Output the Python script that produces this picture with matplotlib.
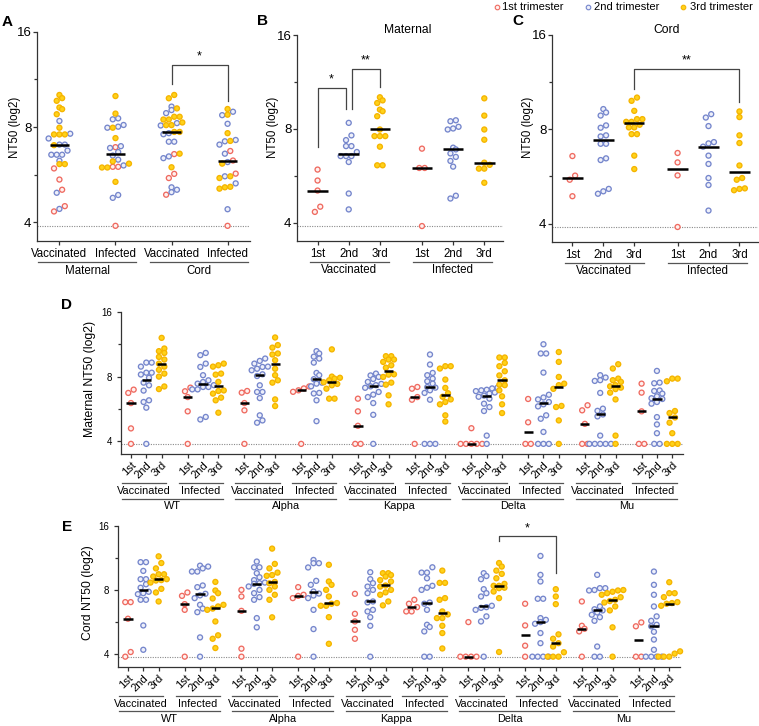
import numpy as np
import matplotlib
matplotlib.use('Agg')
import matplotlib.pyplot as plt
from matplotlib.lines import Line2D
from matplotlib.ticker import FixedLocator, NullFormatter

plt.rcParams['font.family'] = ['Liberation Sans', 'DejaVu Sans']

LOD = 3.9
trimesters = ['1st', '2nd', '3rd']
tri_labels = ['1st trimester', '2nd trimester', '3rd trimester']
groups = ['Vaccinated', 'Infected']
variants = ['WT', 'Alpha', 'Kappa', 'Delta', 'Mu']

# panel B: maternal NT50, per trimester
mat_vac = [[5.92, 5.46, 5.07, 4.50, 4.33],
           [8.36, 7.62, 7.36, 7.04, 7.04, 6.74, 6.54, 6.54, 6.54, 6.26, 4.96, 4.41],
           [10.1, 9.87, 9.68, 9.22, 9.11, 8.78, 7.96, 7.58, 7.58, 7.58, 7.01, 6.11, 6.11]]
mat_inf = [[6.91, 5.99, 5.99, 3.9],
           [8.52, 8.46, 8.12, 8.02, 7.96, 6.96, 6.87, 6.67, 6.50, 6.31, 6.05, 4.88, 4.78],
           [10.02, 8.82, 7.96, 7.38, 6.23, 6.13, 5.96, 5.96, 5.37]]
# panel C: cord NT50
cord_vac = [[6.57, 5.69, 5.52, 4.89],
            [9.28, 9.05, 8.85, 8.23, 8.09, 7.65, 7.59, 7.19, 7.19, 6.46, 6.38, 5.16, 5.07, 4.98],
            [10.1, 9.86, 9.16, 8.62, 8.62, 8.45, 8.45, 8.27, 8.11, 8.11, 7.72, 7.72, 6.59, 5.97]]
cord_inf = [[6.72, 6.27, 5.70, 3.9],
            [8.94, 8.72, 8.19, 7.28, 7.21, 7.04, 6.59, 6.20, 5.59, 5.31, 4.40],
            [9.12, 8.75, 7.65, 7.23, 6.13, 5.59, 5.52, 5.18, 5.16, 5.11]]

# panel D: maternal by variant -> [vac 1st, vac 2nd, vac 3rd, inf 1st, inf 2nd, inf 3rd]
mat_wt = [[6.96, 6.72, 6.03, 4.60, 3.9],
          [9.29, 9.29, 8.9, 8.34, 8.34, 8.18, 7.9, 7.5, 7.29, 6.89, 6.21, 6.10, 5.74, 3.9],
          [12.1, 10.8, 10.5, 10.3, 9.87, 9.6, 9.19, 8.9, 8.6, 8.26, 8.0, 7.2, 7.0],
          [7.11, 6.84, 6.43, 5.52, 3.9],
          [10.3, 10.06, 9.19, 8.87, 8.12, 7.69, 7.55, 7.42, 7.3, 7.16, 7.16, 6.98, 6.98, 5.2, 5.06],
          [9.19, 9.03, 8.9, 8.26, 8.17, 7.56, 6.9, 6.86, 6.67, 6.39, 6.21, 5.44]]
mat_alpha = [[6.86, 6.74, 6.03, 5.58, 3.9],
             [9.70, 9.46, 9.19, 8.9, 8.87, 8.7, 8.56, 8.2, 8.05, 7.29, 6.79, 6.79, 6.36, 5.29, 5.01, 4.89],
             [12.15, 11.2, 10.9, 10.24, 10.13, 9.53, 8.7, 8.12, 7.69, 7.5, 6.27, 5.84],
             [7.2, 7.05, 6.91, 6.8, 3.9],
             [10.5, 10.24, 9.9, 9.70, 9.29, 8.32, 8.12, 7.78, 7.5, 7.42, 7.21, 6.72, 6.68, 6.21, 4.97],
             [10.7, 8.0, 7.9, 7.83, 7.69, 7.53, 7.4, 7.29, 7.03, 6.32, 6.32]]
mat_kappa = [[6.32, 5.52, 4.73, 3.9, 3.9],
             [8.26, 8.1, 7.97, 7.8, 7.56, 7.4, 7.3, 7.21, 7.1, 6.79, 6.6, 6.43, 6.03, 5.32, 3.9],
             [9.95, 9.95, 9.6, 9.6, 9.36, 9.03, 8.8, 8.2, 8.17, 7.97, 7.5, 7.34, 6.55, 5.95],
             [7.16, 7.03, 6.43, 6.25, 3.9],
             [10.13, 9.10, 8.32, 8.12, 7.83, 7.61, 7.42, 7.15, 7.11, 6.91, 6.72, 6.25, 3.9, 3.9, 3.9],
             [8.94, 8.94, 8.72, 7.75, 7.09, 6.7, 6.45, 6.27, 6.1, 5.95, 5.29, 4.95]]
mat_delta = [[4.61, 3.9, 3.9, 3.9, 3.9, 3.9],
             [7.11, 7.05, 6.95, 6.91, 6.85, 6.75, 6.67, 6.53, 6.45, 6.32, 5.99, 5.78, 5.54, 4.26, 3.9],
             [9.81, 9.81, 9.26, 8.94, 8.47, 8.1, 7.69, 7.34, 7.3, 6.91, 6.48, 5.95, 5.42],
             [6.30, 4.91, 3.9, 3.9],
             [11.3, 10.24, 10.24, 8.35, 6.59, 6.4, 6.27, 6.1, 5.95, 5.82, 5.29, 5.10, 4.43, 3.9, 3.9, 3.9],
             [10.4, 9.36, 7.97, 7.42, 7.3, 7.02, 5.85, 5.78, 5.01, 3.9]]
mat_mu = [[5.89, 5.58, 4.83, 3.9, 3.9],
          [8.12, 7.92, 7.7, 7.64, 6.72, 5.68, 5.55, 5.34, 5.23, 4.26, 3.9, 3.9, 3.9, 3.9, 3.9],
          [9.13, 8.72, 7.83, 7.7, 7.56, 7.3, 7.21, 7.11, 7.0, 6.74, 6.27, 4.26, 3.9],
          [7.42, 6.74, 5.52, 3.9, 3.9],
          [8.50, 7.5, 7.45, 6.9, 6.86, 6.67, 6.48, 6.35, 6.30, 6.10, 5.99, 5.19, 4.8, 4.37, 3.9, 3.9],
          [7.83, 7.83, 7.61, 5.54, 5.42, 5.17, 4.89, 4.37, 3.9, 3.9, 3.9]]

# panel E: cord by variant
cord_wt = [[7.02, 7.02, 5.87, 4.1, 3.9],
           [10.8, 10.8, 9.83, 8.99, 8.99, 8.51, 8.2, 7.85, 7.73, 7.65, 7.20, 7.20, 5.46, 4.2],
           [11.5, 10.7, 10.1, 9.48, 9.48, 9.25, 8.99, 8.9, 8.86, 8.67, 8.1, 7.79, 7.07],
           [7.79, 7.51, 6.87, 6.46, 3.9],
           [10.4, 10.3, 10.1, 9.76, 9.76, 8.40, 8.25, 7.68, 7.55, 7.33, 6.82, 6.55, 6.30, 4.80, 3.9],
           [8.73, 7.96, 7.73, 7.3, 6.82, 6.7, 6.55, 6.46, 5.70, 4.91, 4.73, 4.28]]
cord_alpha = [[8.01, 7.46, 6.39, 4.25, 3.9],
              [10.87, 10.22, 10.22, 9.59, 9.18, 8.9, 8.67, 8.61, 8.55, 8.31, 8.01, 7.73, 7.41, 7.20, 5.91, 5.35],
              [12.5, 10.6, 10.1, 9.65, 9.4, 9.32, 8.73, 8.6, 8.31, 8.01, 7.6, 7.2, 5.96],
              [8.25, 7.6, 7.51, 7.33, 3.9],
              [11.06, 10.68, 10.68, 10.2, 8.83, 8.46, 7.87, 7.7, 7.54, 7.33, 6.46, 5.25, 3.9],
              [10.5, 8.77, 8.46, 8.01, 7.46, 6.95, 6.9, 6.75, 6.75, 5.97, 4.48]]
cord_kappa = [[7.68, 6.19, 5.70, 5.21, 4.73],
              [9.69, 8.99, 8.61, 8.3, 8.01, 7.73, 7.07, 7.0, 6.46, 6.35, 5.97, 5.44, 3.9],
              [9.59, 9.59, 9.4, 9.25, 8.9, 8.77, 8.40, 8.3, 8.01, 7.8, 7.6, 7.07, 6.78],
              [7.20, 6.9, 6.65, 6.35, 6.35],
              [10.22, 9.65, 9.65, 9.08, 8.37, 8.2, 8.01, 6.99, 6.9, 6.46, 5.50, 5.37, 5.12, 3.9, 3.9],
              [9.86, 8.64, 8.64, 7.33, 7.20, 6.35, 6.15, 5.91, 5.91, 5.44, 5.03, 4.26]]
cord_delta = [[5.66, 3.9, 3.9, 3.9, 3.9],
              [9.59, 9.3, 8.99, 8.07, 7.73, 7.46, 6.75, 6.65, 6.6, 6.46, 6.02, 5.70, 3.9],
              [10.7, 10.3, 9.86, 9.52, 9.08, 8.55, 8.37, 8.37, 8.2, 8.16, 7.87, 7.33, 4.1],
              [6.90, 5.46, 4.39, 3.9],
              [11.55, 9.42, 8.77, 7.28, 7.28, 5.91, 5.8, 5.66, 5.56, 5.03, 4.51, 3.9, 3.9, 3.9, 3.9],
              [8.07, 7.46, 6.87, 4.96, 4.73, 4.51, 4.35, 4.09, 3.9, 3.9, 3.9]]
cord_mu = [[7.07, 5.44, 5.27, 5.12, 3.9],
           [9.42, 8.16, 8.16, 8.0, 7.96, 6.70, 6.5, 6.42, 6.28, 6.13, 5.97, 5.74, 4.35, 3.9, 3.9],
           [8.0, 7.96, 7.85, 7.73, 7.6, 7.4, 7.20, 7.1, 6.99, 6.70, 6.42, 5.35, 3.9],
           [5.64, 5.41, 3.9, 3.9],
           [9.76, 8.46, 7.6, 6.70, 6.02, 5.74, 5.5, 5.41, 5.1, 4.69, 4.2, 3.9, 3.9, 3.9, 3.9],
           [8.70, 7.73, 7.73, 7.41, 7.02, 6.95, 6.90, 6.75, 4.13, 4.03, 3.9, 3.9, 3.9]]

FACE = ['#fff1ef', '#eef0fa', '#ffd21a']
EDGE = ['#ef6a60', '#7586cc', '#f5b400']

W, H = 759, 726
fig = plt.figure(figsize=(W / 100, H / 100), dpi=100)


def add_ax(left, top, right, bottom):
    return fig.add_axes([left / W, 1 - bottom / H, (right - left) / W, (bottom - top) / H])


def style(ax, xlim, yfs, ypad):
    ax.set_yscale('log', base=2)
    ax.set_ylim(3.5, 16)
    ax.set_xlim(*xlim)
    ax.set_yticks([4, 8, 16])
    ax.set_yticklabels(['4', '8', '16'])
    ax.yaxis.set_minor_locator(FixedLocator([4 * 2 ** 0.5, 8 * 2 ** 0.5]))
    ax.yaxis.set_minor_formatter(NullFormatter())
    for s in ['top', 'right']:
        ax.spines[s].set_visible(False)
    for s in ['left', 'bottom']:
        ax.spines[s].set_color('#333333')
        ax.spines[s].set_linewidth(0.9)
    ax.tick_params(axis='y', which='major', length=3, width=0.9, color='#333333', labelsize=yfs, pad=ypad)
    ax.tick_params(axis='y', which='minor', length=2.5, width=0.9, color='#333333')
    ax.tick_params(axis='x', length=3, width=0.9, color='#333333')
    ax.axhline(LOD, color='#8a8a8a', lw=0.8, ls=(0, (1, 1.2)), zorder=1)


def swarm_x(ax, xc, vals, step_px=5.4):
    vals = np.asarray(vals, float)
    ypx = ax.transData.transform(np.column_stack([np.full(len(vals), xc), vals]))[:, 1]
    px_per_x = ax.transData.transform([[1, 4]])[0, 0] - ax.transData.transform([[0, 4]])[0, 0]
    order = np.argsort(ypx, kind='stable')
    rows, cur = [], [order[0]]
    for i in order[1:]:
        if ypx[i] - ypx[cur[0]] < step_px:
            cur.append(i)
        else:
            rows.append(cur)
            cur = [i]
    rows.append(cur)
    xs = np.full(len(vals), float(xc))
    for row in rows:
        n = len(row)
        for k, i in enumerate(row):
            xs[i] = xc + (k - (n - 1) / 2) * step_px / px_per_x
    return xs


def plot_group(ax, xc, vals, tris, half):
    vals = np.asarray(vals, float)
    tris = np.asarray(tris)
    xs = swarm_x(ax, xc, vals)
    ax.scatter(xs, vals, s=13, facecolors=[FACE[t] for t in tris], edgecolors=[EDGE[t] for t in tris],
               linewidths=0.95, zorder=3, clip_on=False)
    ax.hlines(np.median(vals), xc - half, xc + half, color='black', lw=1.8, zorder=4)


def under(ax, x0, x1, text, line_px, text_px, fs):
    hpx = ax.get_position().height * H
    tr = ax.get_xaxis_transform()
    ax.plot([x0, x1], [-line_px / hpx] * 2, transform=tr, clip_on=False, color='#555555', lw=0.9)
    ax.text((x0 + x1) / 2, -text_px / hpx, text, transform=tr, ha='center', va='center', fontsize=fs)


def bracket(ax, x0, x1, y0, y1, ytop, label):
    ax.plot([x0, x0, x1, x1], [y0, ytop, ytop, y1], color='#444444', lw=0.9, clip_on=False, zorder=2)
    ax.text((x0 + x1) / 2, ytop * 1.015, label, ha='center', va='bottom', fontsize=9)


def ftext(x, y, s, **kw):
    fig.text(x / W, 1 - y / H, s, **kw)


# ---------- panel A ----------
axA = add_ax(37, 31.7, 250, 240.7)
style(axA, (-0.4, 3.4), 9.5, 1)
pooled = [mat_vac, mat_inf, cord_vac, cord_inf]
for i, grp in enumerate(pooled):
    vals = sum(grp, [])
    tris = sum([[t] * len(g) for t, g in enumerate(grp)], [])
    plot_group(axA, i, vals, tris, 0.17)
axA.set_xticks(range(4))
axA.set_xticklabels(['Vaccinated', 'Infected', 'Vaccinated', 'Infected'], fontsize=8.3)
axA.tick_params(axis='x', pad=2.5)
under(axA, -0.38, 1.37, 'Maternal', 21, 30, 8.3)
under(axA, 1.62, 3.37, 'Cord', 21, 30, 8.3)
bracket(axA, 2, 3, 10.9, 9.7, 12.6, '*')
ftext(15, 127, 'NT50 (log2)', rotation=90, ha='center', va='center', fontsize=8.3)

# ---------- panels B and C ----------
def trimester_panel(left, right, top, bottom, gap, vac, inf, title, title_x, ylab_x):
    ax = add_ax(left, top, right, bottom)
    pos = [0, 1, 2, gap, gap + 1, gap + 2]
    style(ax, (-0.66, gap + 2.6), 9.5, 1)
    for i, grp in enumerate(vac + inf):
        plot_group(ax, pos[i], grp, [i % 3] * len(grp), 0.33)
    ax.set_xticks(pos)
    ax.set_xticklabels(trimesters * 2, fontsize=8.3)
    ax.tick_params(axis='x', pad=2.5)
    under(ax, -0.25, 2.3, groups[0], 21, 29, 8.3)
    under(ax, gap - 0.3, gap + 2.25, groups[1], 21, 29, 8.3)
    ftext(title_x, 30, title, ha='center', va='center', fontsize=8.7)
    ftext(ylab_x, 127, 'NT50 (log2)', rotation=90, ha='center', va='center', fontsize=8.3)
    return ax, pos


axB, posB = trimester_panel(297, 503, 35, 240.7, 3.35, mat_vac, mat_inf, 'Maternal', 408, 273)
bracket(axB, 0, 0.9, 6.98, 9.23, 10.85, '*')
bracket(axB, 1.1, 2, 9.23, 10.87, 12.47, '**')

axC, posC = trimester_panel(552, 758, 35, 241.7, 3.4, cord_vac, cord_inf, 'Cord', 667, 528)
bracket(axC, 2, posC[5], 10.77, 9.79, 12.47, '**')

# ---------- panels D and E ----------
TRIAD = 3.7


def variant_panel(left, right, top, bottom, data, ylabel, ylab_x, ylab_y):
    ax = add_ax(left, top, right, bottom)
    style(ax, (-0.65, 36.0), 7, 3.5)
    pos, labels = [], []
    for v, vdata in enumerate(data):
        for g in range(2):
            k = 2 * v + g
            for t in range(3):
                x = k * TRIAD + t
                plot_group(ax, x, vdata[3 * g + t], [t] * len(vdata[3 * g + t]), 0.3)
                pos.append(x)
                labels.append(trimesters[t])
            under(ax, k * TRIAD - 0.6, k * TRIAD + 2.3, groups[g], 29, 37, 7.8)
        under(ax, 2 * v * TRIAD - 0.6, (2 * v + 1) * TRIAD + 2.3, variants[v], 44.5, 52, 7.8)
    ax.set_xticks(pos)
    ax.set_xticklabels(labels, rotation=45, ha='right', va='top', rotation_mode='anchor', fontsize=8)
    ax.tick_params(axis='x', pad=1.5)
    ftext(ylab_x, ylab_y, ylabel, rotation=90, ha='center', va='center', fontsize=8.8)
    return ax


axD = variant_panel(121, 683, 311.7, 454, [mat_wt, mat_alpha, mat_kappa, mat_delta, mat_mu],
                    'Maternal NT50 (log2)', 90, 379)
axE = variant_panel(118, 680, 525.7, 666.7, [cord_wt, cord_alpha, cord_kappa, cord_delta, cord_mu],
                    'Cord NT50 (log2)', 88, 592.5)
bracket(axE, 6 * TRIAD + 2, 7 * TRIAD + 2, 13.6, 9.62, 14.37, '*')

# ---------- panel letters and legend ----------
for lab, x, y in [('A', 7, 22), ('B', 262, 21), ('C', 518, 21), ('D', 67, 305), ('E', 67, 527)]:
    ftext(x, y, lab, ha='center', va='center', fontsize=11, fontweight='bold')

legend_x = [(497, 502), (588, 594), (683, 690)]
for t, (mx, tx) in enumerate(legend_x):
    fig.add_artist(Line2D([mx / W], [1 - 6.5 / H], transform=fig.transFigure, marker='o', ls='',
                          markersize=3.3, markerfacecolor=FACE[t], markeredgecolor=EDGE[t],
                          markeredgewidth=0.8))
    ftext(tx, 6.5, tri_labels[t], ha='left', va='center', fontsize=8)

fig.savefig('out.png', dpi=100)
